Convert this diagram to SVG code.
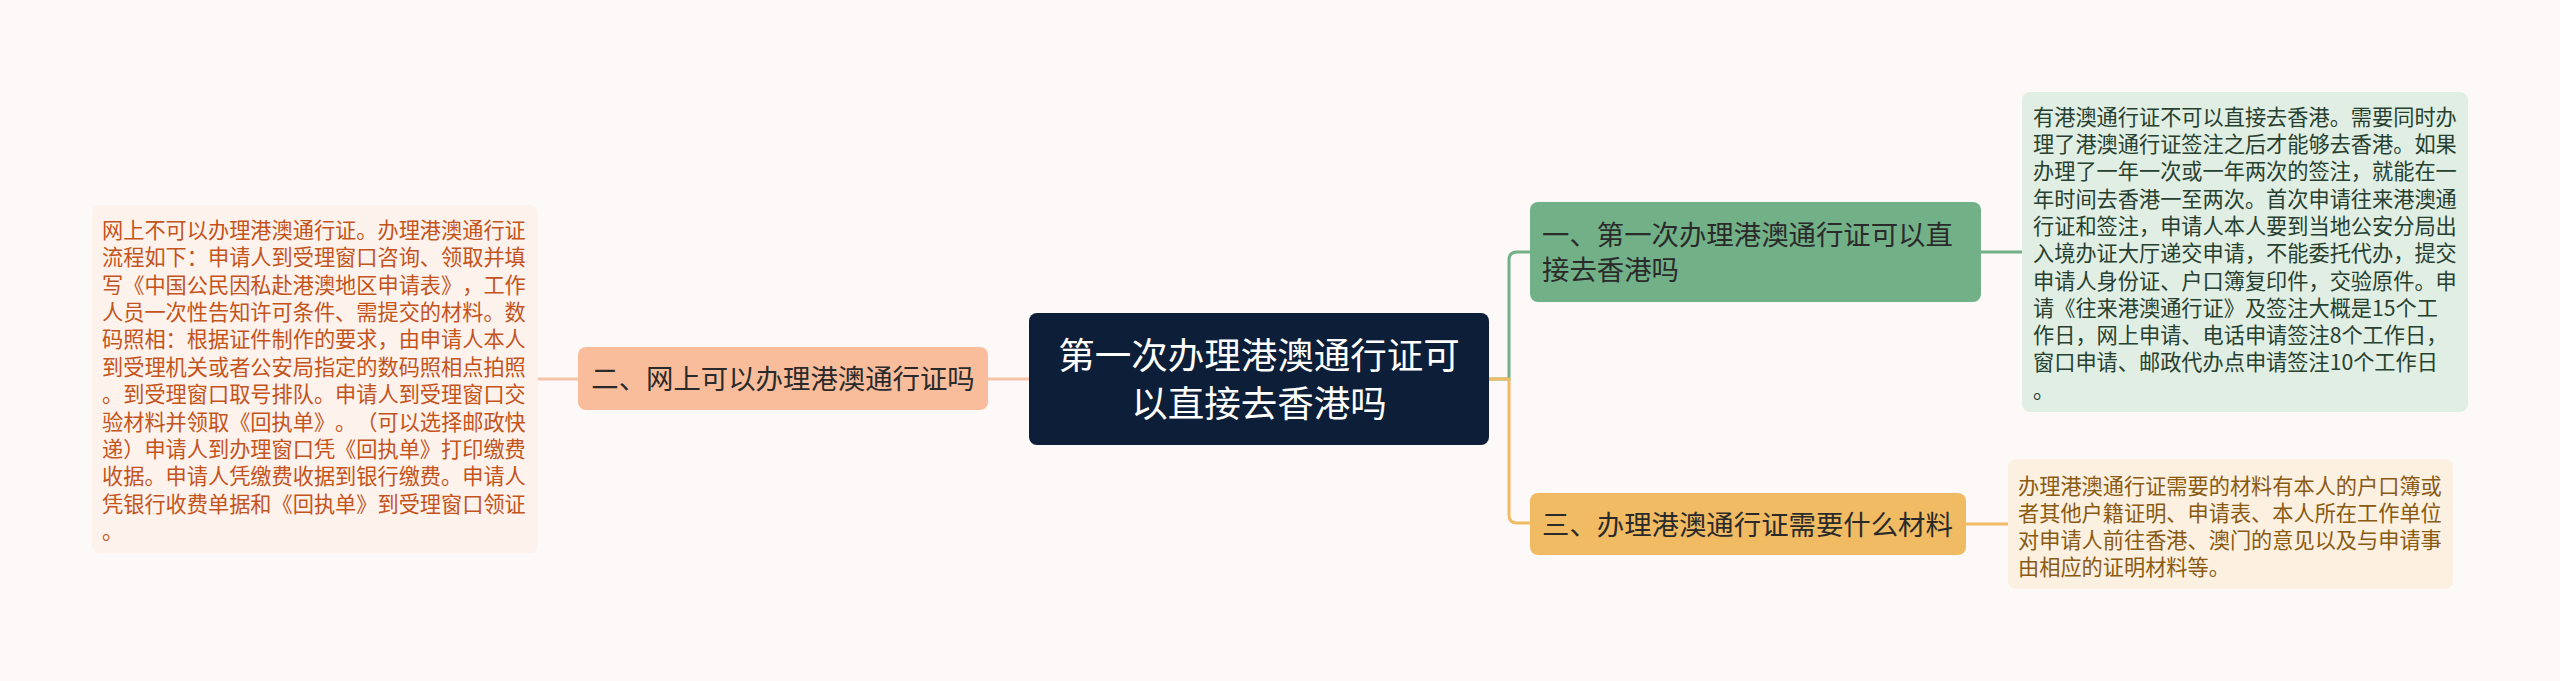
<svg xmlns="http://www.w3.org/2000/svg" width="2560" height="681" viewBox="0 0 2560 681">
<style>
text{font-family:"Noto Sans CJK SC","Noto Sans",sans-serif;text-spacing-trim:space-all;font-kerning:none}
.node{font-size:27.4px;fill:#2a2a2a}
.root{font-size:36.5px;fill:#ffffff}
.det{font-size:21.2px}
.dl{fill:#c4541c}
.dg{fill:#27402f}
.do{fill:#8a5a12}
.conn{fill:none;stroke-width:3}
</style>
<rect width="2560" height="681" fill="#fcf9f8"/>
<g id="connectors">
<path class="conn" stroke="#f6c4a6" d="M1029,379 H988"/>
<path class="conn" stroke="#f6c4a6" d="M578,379 H538"/>
<path class="conn" stroke="#72b088" d="M1489,379 H1509 V260 Q1509,252 1517,252 H1530"/>
<path class="conn" stroke="#f0bb63" d="M1489,379 H1509 V515 Q1509,523 1517,523 H1530"/>
<path class="conn" stroke="#72b088" d="M1981,252 H2022"/>
<path class="conn" stroke="#f0bb63" d="M1966,524 H2008"/>
</g>
<g id="root">
<rect x="1029" y="313" width="460" height="132" rx="8" fill="#0c1e38"/>
<text class="root" x="1259" y="369" text-anchor="middle">第一次办理港澳通行证可</text>
<text class="root" x="1259" y="417" text-anchor="middle">以直接去香港吗</text>
</g>
<g id="node2">
<rect x="578" y="347" width="410" height="63" rx="8" fill="#f9bd9c"/>
<text class="node" x="783" y="389" text-anchor="middle">二、网上可以办理港澳通行证吗</text>
</g>
<g id="node2-detail">
<rect x="92" y="205" width="446" height="348" rx="8" fill="#fdf2ec"/>
<text class="det dl" x="102">
<tspan x="102" y="238">网上不可以办理港澳通行证。办理港澳通行证</tspan>
<tspan x="102" y="265.4">流程如下：申请人到受理窗口咨询、领取并填</tspan>
<tspan x="102" y="292.7">写《中国公民因私赴港澳地区申请表》，工作</tspan>
<tspan x="102" y="320.1">人员一次性告知许可条件、需提交的材料。数</tspan>
<tspan x="102" y="347.4">码照相：根据证件制作的要求，由申请人本人</tspan>
<tspan x="102" y="374.8">到受理机关或者公安局指定的数码照相点拍照</tspan>
<tspan x="102" y="402.1">。到受理窗口取号排队。申请人到受理窗口交</tspan>
<tspan x="102" y="429.5">验材料并领取《回执单》。（可以选择邮政快</tspan>
<tspan x="102" y="456.8">递）申请人到办理窗口凭《回执单》打印缴费</tspan>
<tspan x="102" y="484.2">收据。申请人凭缴费收据到银行缴费。申请人</tspan>
<tspan x="102" y="511.5">凭银行收费单据和《回执单》到受理窗口领证</tspan>
<tspan x="102" y="538.9">。</tspan>
</text>
</g>
<g id="node1">
<rect x="1530" y="202" width="451" height="100" rx="8" fill="#72b088"/>
<text class="node" x="1542" y="245">一、第一次办理港澳通行证可以直</text>
<text class="node" x="1542" y="280">接去香港吗</text>
</g>
<g id="node1-detail">
<rect x="2022" y="92" width="446" height="320" rx="8" fill="#e0eee4"/>
<text class="det dg">
<tspan x="2033" y="124.7">有港澳通行证不可以直接去香港。需要同时办</tspan>
<tspan x="2033" y="152">理了港澳通行证签注之后才能够去香港。如果</tspan>
<tspan x="2033" y="179.3">办理了一年一次或一年两次的签注，就能在一</tspan>
<tspan x="2033" y="206.6">年时间去香港一至两次。首次申请往来港澳通</tspan>
<tspan x="2033" y="233.9">行证和签注，申请人本人要到当地公安分局出</tspan>
<tspan x="2033" y="261.2">入境办证大厅递交申请，不能委托代办，提交</tspan>
<tspan x="2033" y="288.5">申请人身份证、户口簿复印件，交验原件。申</tspan>
<tspan x="2033" y="315.8">请《往来港澳通行证》及签注大概是15个工</tspan>
<tspan x="2033" y="343.1">作日，网上申请、电话申请签注8个工作日，</tspan>
<tspan x="2033" y="370.4">窗口申请、邮政代办点申请签注10个工作日</tspan>
<tspan x="2033" y="397.7">。</tspan>
</text>
</g>
<g id="node3">
<rect x="1530" y="493" width="436" height="62" rx="8" fill="#f0bb63"/>
<text class="node" x="1542" y="535">三、办理港澳通行证需要什么材料</text>
</g>
<g id="node3-detail">
<rect x="2008" y="459" width="445" height="130" rx="8" fill="#fcf0e0"/>
<text class="det do">
<tspan x="2018" y="493.7">办理港澳通行证需要的材料有本人的户口簿或</tspan>
<tspan x="2018" y="520.7">者其他户籍证明、申请表、本人所在工作单位</tspan>
<tspan x="2018" y="547.7">对申请人前往香港、澳门的意见以及与申请事</tspan>
<tspan x="2018" y="574.7">由相应的证明材料等。</tspan>
</text>
</g>
</svg>
